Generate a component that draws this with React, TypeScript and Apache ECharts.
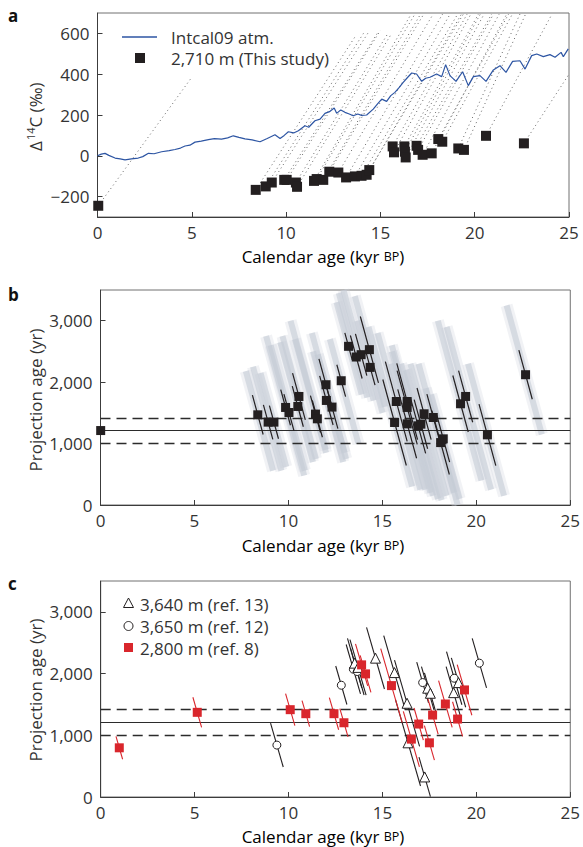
import React, { useEffect, useRef } from 'react';
import * as echarts from 'echarts';

const FONT = '"Open Sans", "Noto Sans", "DejaVu Sans", sans-serif';
const INK = '#231f20';

// ---------- Panel a ----------
const intcalAge = [0.0, 0.2, 0.4, 0.6, 0.93, 1.2, 1.46, 1.8, 2.16, 2.4, 2.7, 3.0, 3.4, 3.8, 4.11, 4.4, 4.64, 4.9, 5.17, 5.5, 5.88, 6.2, 6.58, 6.9, 7.2, 7.5, 7.82, 8.2, 8.62, 9.0, 9.41, 9.68, 9.9, 10.12, 10.4, 10.65, 11.0, 11.2, 11.53, 11.8, 12.06, 12.33, 12.55, 12.68, 12.9, 13.12, 13.35, 13.56, 13.8, 14.0, 14.27, 14.62, 14.85, 15.07, 15.33, 15.55, 15.77, 16.0, 16.21, 16.45, 16.66, 16.92, 17.19, 17.4, 17.63, 17.98, 18.25, 18.46, 18.69, 19.01, 19.36, 19.66, 19.93, 20.28, 20.6, 20.99, 21.34, 21.66, 22.01, 22.4, 22.67, 23.02, 23.29, 23.64, 23.99, 24.26, 24.58, 24.7, 24.96];
const intcalD14 = [0, 8, 12, 2, -11, -15, -20, -15, -11, -4, 12, 10, 20, 25, 31, 38, 48, 52, 67, 72, 79, 84, 82, 88, 98, 90, 83, 78, 69, 85, 103, 85, 100, 118, 112, 123, 147, 140, 172, 180, 208, 218, 234, 208, 225, 213, 205, 196, 205, 198, 200, 229, 255, 278, 267, 295, 311, 335, 360, 385, 406, 401, 365, 380, 385, 401, 388, 447, 393, 365, 412, 344, 388, 393, 365, 421, 442, 409, 463, 466, 425, 491, 499, 486, 496, 483, 507, 486, 524];

const ageA = [0.04, 8.39, 8.92, 9.24, 9.9, 10.03, 10.52, 10.58, 11.48, 11.62, 11.97, 12.29, 12.77, 13.18, 13.65, 14.0, 14.27, 14.41, 15.65, 15.72, 16.27, 16.3, 16.34, 16.92, 17.0, 17.24, 17.72, 18.07, 18.28, 19.13, 19.43, 20.6, 22.61];
const d14A = [-245, -167, -150, -131, -118, -118, -131, -152, -123, -114, -118, -78, -82, -106, -101, -98, -93, -70, 46, 17, 46, 20, -8, 49, 29, 5, 12, 82, 69, 36, 29, 98, 61];
// end points of the dotted projection curves starting at each sample
const dotEndX = [5.0, 13.7, 14.1, 14.4, 14.9, 15.0, 15.4, 15.6, 16.6, 16.8, 17.1, 17.3, 17.8, 18.3, 18.7, 19.1, 19.3, 19.4, 19.6, 19.8, 20.2, 20.3, 20.5, 20.9, 21.0, 21.3, 21.7, 21.8, 22.0, 22.4, 22.7, 24.1, 25.0];
const dotEndY = [385, 590, 600, 610, 610, 615, 600, 600, 690, 690, 690, 695, 695, 695, 695, 695, 695, 695, 695, 695, 695, 695, 695, 695, 695, 695, 695, 695, 695, 695, 695, 695, 400];

// ---------- Panel b ----------
const ageB = [0.01, 8.37, 8.92, 9.23, 9.85, 10.03, 10.5, 10.56, 11.44, 11.54, 12.0, 12.02, 12.32, 12.81, 13.2, 13.61, 13.87, 14.31, 14.35, 15.65, 15.74, 16.32, 16.32, 16.32, 16.9, 17.05, 17.22, 17.71, 18.1, 18.24, 19.16, 19.43, 20.59, 22.62];
const projB = [1212, 1468, 1349, 1349, 1588, 1506, 1604, 1767, 1480, 1403, 1958, 1702, 1594, 2023, 2583, 2409, 2447, 2529, 2240, 1343, 1685, 1685, 1588, 1321, 1289, 1316, 1485, 1424, 1016, 1077, 1648, 1767, 1142, 2121];
const errB = [0, 320, 280, 270, 290, 300, 330, 380, 300, 300, 420, 400, 350, 260, 220, 350, 340, 540, 290, 700, 650, 620, 600, 560, 450, 400, 420, 380, 520, 380, 460, 420, 500, 400];
const cloudTopB = [0, 2180, 2250, 2150, 2750, 2600, 2650, 2750, 2700, 3000, 2800, 2500, 2450, 2700, 3300, 3450, 3500, 3400, 3000, 2900, 2800, 2600, 2500, 2300, 2300, 2200, 2300, 2300, 1900, 1800, 3000, 2900, 2300, 3250];
const cloudBotB = [0, 560, 560, 620, 480, 560, 700, 750, 850, 900, 850, 700, 750, 1000, 1800, 1750, 1700, 1600, 1500, 300, 250, 150, 200, 250, 100, 80, 150, 200, 0, 100, 400, 250, 150, 1150];
const refMean = 1210;
const refLow = 1000;
const refHigh = 1420;

// ---------- Panel c ----------
const ageR = [0.99, 5.14, 10.09, 10.92, 12.42, 12.95, 13.89, 14.1, 15.48, 16.54, 16.93, 17.5, 17.67, 18.35, 19.0, 19.37];
const projR = [797, 1372, 1415, 1350, 1350, 1203, 2141, 1995, 1805, 938, 1182, 878, 1328, 1507, 1263, 1735];
const errR = [185, 244, 260, 211, 260, 228, 340, 300, 600, 450, 260, 280, 310, 380, 280, 410];
const ageO = [9.38, 12.81, 13.45, 13.66, 17.14, 18.82, 20.16];
const projO = [841, 1811, 2071, 2033, 1854, 1925, 2169];
const errO = [355, 312, 400, 380, 330, 430, 400];
const ageT = [13.52, 13.7, 14.63, 15.64, 16.31, 16.36, 17.25, 17.41, 17.55, 18.79, 19.05];
const projT = [2169, 2100, 2250, 2016, 1519, 878, 325, 1763, 1681, 1691, 1854];
const errT = [400, 450, 500, 600, 700, 700, 320, 350, 330, 420, 400];

const xTicks = [0, 5, 10, 15, 20, 25];
const yTicksA = [-200, 0, 200, 400, 600];
const yTicksBC = [0, 1000, 2000, 3000];

const SLOPE_B = 1120; // yr of projection age per kyr of calendar age along the uncertainty
const SLOPE_C = 1050;

function seg(x: number, y: number, up: number, down: number, s: number) {
  return { coords: [[x - up / s, y + up], [x + down / s, y - down]] };
}

function fmtThousands(v: number) {
  return v === 0 ? '0' : v.toLocaleString('en-US');
}

function buildOption() {
  const axisLine = { show: true, onZero: false, lineStyle: { color: '#3c3c3c', width: 1 } };
  const axisTick = { show: true, inside: true, length: 5, lineStyle: { color: '#3c3c3c', width: 1 } };
  const label = { color: '#333', fontSize: 17, fontFamily: FONT };

  const grids = [
    { left: 97.5, top: 13, width: 471.5, height: 204 },
    { left: 100.5, top: 290, width: 472.5, height: 215 },
    { left: 100.7, top: 581, width: 471.5, height: 216 },
  ].map((g) => ({ ...g, show: true, borderColor: '#707070', borderWidth: 1, backgroundColor: 'transparent' }));

  const xAxis = [0, 1, 2].map((i) => ({
    type: 'value', gridIndex: i, min: 0, max: 25, interval: 5,
    axisLine, axisTick: { ...axisTick, customValues: xTicks },
    axisLabel: { ...label, margin: 7, customValues: xTicks },
    splitLine: { show: false },
  }));

  const yAxis = [
    {
      type: 'value', gridIndex: 0, min: -300, max: 700, interval: 100,
      axisLine, axisTick: { ...axisTick, customValues: yTicksA },
      axisLabel: {
        ...label, margin: 8, customValues: yTicksA,
        formatter: (v: number) => (yTicksA.includes(v) ? (v < 0 ? '\u2212' + Math.abs(v) : String(v)) : ''),
      },
      splitLine: { show: false },
    },
    ...[1, 2].map((i) => ({
      type: 'value', gridIndex: i, min: 0, max: 3500, interval: 500,
      axisLine, axisTick: { ...axisTick, customValues: yTicksBC },
      axisLabel: {
        ...label, margin: 8, customValues: yTicksBC,
        formatter: (v: number) => (yTicksBC.includes(v) ? fmtThousands(v) : ''),
      },
      splitLine: { show: false },
    })),
  ];

  const series: any[] = [];
  const linesBase = (ax: number) => ({
    type: 'lines', coordinateSystem: 'cartesian2d', xAxisIndex: ax, yAxisIndex: ax, silent: true, polyline: false,
  });

  // ---- a ----
  series.push({
    ...linesBase(0),
    lineStyle: { color: '#666', width: 1, type: [1, 3.2], opacity: 1 },
    data: ageA.map((x, i) => ({ coords: [[x, d14A[i]], [dotEndX[i], dotEndY[i]]] })),
  });
  series.push({
    type: 'line', xAxisIndex: 0, yAxisIndex: 0, showSymbol: false, silent: true,
    lineStyle: { color: '#2d55a3', width: 1.2, opacity: 1 },
    data: intcalAge.map((x, i) => [x, intcalD14[i]]),
  });
  series.push({
    type: 'scatter', xAxisIndex: 0, yAxisIndex: 0, symbol: 'rect', symbolSize: 10, silent: true,
    itemStyle: { color: INK, opacity: 1 },
    data: ageA.map((x, i) => [x, d14A[i]]),
  });

  // ---- b ----
  const cloudData = ageB
    .map((x, i) => (cloudTopB[i] > 0 ? seg(x, projB[i], cloudTopB[i] - projB[i], projB[i] - cloudBotB[i], SLOPE_B) : null))
    .filter(Boolean);
  series.push({
    ...linesBase(1),
    lineStyle: { color: '#cfd5dd', width: 12, opacity: 0.3, cap: 'butt' },
    data: cloudData,
  });
  series.push({
    ...linesBase(1),
    lineStyle: { color: '#c5ccd6', width: 6, opacity: 0.6, cap: 'butt' },
    data: cloudData,
  });

  const refLines = (ax: number) => [
    {
      ...linesBase(ax),
      lineStyle: { color: '#2b2b2b', width: 1.4, type: [10, 6], opacity: 1 },
      data: [{ coords: [[0, refHigh], [25, refHigh]] }, { coords: [[0, refLow], [25, refLow]] }],
    },
    {
      ...linesBase(ax),
      lineStyle: { color: '#2b2b2b', width: 1, opacity: 1 },
      data: [{ coords: [[0, refMean], [25, refMean]] }],
    },
  ];
  series.push(...refLines(1));
  series.push({
    ...linesBase(1),
    lineStyle: { color: INK, width: 1.2, opacity: 1 },
    data: ageB.map((x, i) => seg(x, projB[i], errB[i], errB[i], SLOPE_B)).filter((d, i) => errB[i] > 0),
  });
  series.push({
    type: 'scatter', xAxisIndex: 1, yAxisIndex: 1, symbol: 'rect', symbolSize: 9, silent: true,
    itemStyle: { color: INK, opacity: 1 },
    data: ageB.map((x, i) => [x, projB[i]]),
  });

  // ---- c ----
  series.push(...refLines(2));
  series.push({
    ...linesBase(2),
    lineStyle: { color: INK, width: 1.1, opacity: 1 },
    data: [
      ...ageO.map((x, i) => seg(x, projO[i], errO[i], errO[i], SLOPE_C)),
      ...ageT.map((x, i) => seg(x, projT[i], errT[i], Math.min(errT[i], projT[i]), SLOPE_C)),
    ],
  });
  series.push({
    ...linesBase(2),
    lineStyle: { color: '#d9262c', width: 1.1, opacity: 1 },
    data: ageR.map((x, i) => seg(x, projR[i], errR[i], errR[i], SLOPE_C)),
  });
  series.push({
    type: 'scatter', xAxisIndex: 2, yAxisIndex: 2, symbol: 'circle', symbolSize: 8, silent: true,
    itemStyle: { color: '#fff', borderColor: INK, borderWidth: 1, opacity: 1 },
    data: ageO.map((x, i) => [x, projO[i]]),
  });
  series.push({
    type: 'scatter', xAxisIndex: 2, yAxisIndex: 2, symbol: 'triangle', symbolSize: 10, silent: true,
    itemStyle: { color: '#fff', borderColor: INK, borderWidth: 1, opacity: 1 },
    data: ageT.map((x, i) => [x, projT[i]]),
  });
  series.push({
    type: 'scatter', xAxisIndex: 2, yAxisIndex: 2, symbol: 'rect', symbolSize: 9, silent: true,
    itemStyle: { color: '#d9262c', opacity: 1 },
    data: ageR.map((x, i) => [x, projR[i]]),
  });

  const txt = (x: number, y: number, text: string, extra: any = {}) => ({
    type: 'text', x, y, silent: true,
    style: { text, fill: '#333', font: `17px ${FONT}`, textAlign: 'left', textVerticalAlign: 'middle', ...extra },
  });
  const xName = (y: number) => ({
    type: 'text', x: 323, y, silent: true,
    style: {
      text: '{n|Calendar age (kyr }{s|BP}{n|)}', textAlign: 'center', textVerticalAlign: 'middle',
      rich: {
        n: { fontSize: 17, fontFamily: FONT, color: '#333' },
        s: { fontSize: 12.5, fontFamily: FONT, color: '#333' },
      },
    },
  });
  const yName = (y: number, text: string) => ({
    type: 'text', x: 35, y, rotation: Math.PI / 2, silent: true,
    style: { text, textAlign: 'center', textVerticalAlign: 'middle', fill: '#333', font: `17px ${FONT}` },
  });

  // Δ14C (‰) built from pieces so the mass number is a real superscript
  const d14Label = {
    type: 'group', x: 35, y: 117, rotation: Math.PI / 2, silent: true,
    children: [
      { type: 'text', x: -34, y: 0, style: { text: 'Δ', fill: '#333', font: `17px ${FONT}`, textAlign: 'left', textVerticalAlign: 'middle' } },
      { type: 'text', x: -23, y: -5, style: { text: '14', fill: '#333', font: `11px ${FONT}`, textAlign: 'left', textVerticalAlign: 'middle' } },
      { type: 'text', x: -10.5, y: 0, style: { text: 'C (‰)', fill: '#333', font: `17px ${FONT}`, textAlign: 'left', textVerticalAlign: 'middle' } },
    ],
  };

  const graphic = [
    txt(8, 15, 'a', { font: `bold 17px ${FONT}`, fill: '#111' }),
    txt(8, 294, 'b', { font: `bold 17px ${FONT}`, fill: '#111' }),
    txt(8, 583, 'c', { font: `bold 17px ${FONT}`, fill: '#111' }),
    xName(256), xName(545), xName(836),
    d14Label,
    yName(400, 'Projection age (yr)'),
    yName(690, 'Projection age (yr)'),
    // legend a
    { type: 'line', silent: true, shape: { x1: 122, y1: 37, x2: 157, y2: 37 }, style: { stroke: '#2d55a3', lineWidth: 1.4 } },
    txt(171, 37, 'Intcal09 atm.'),
    { type: 'rect', silent: true, shape: { x: 135, y: 53, width: 10, height: 10 }, style: { fill: INK } },
    txt(171, 58, '2,710 m (This study)'),
    // legend c
    { type: 'polygon', silent: true, shape: { points: [[128.5, 598], [133.5, 607.5], [123.5, 607.5]] }, style: { fill: '#fff', stroke: INK, lineWidth: 1 } },
    txt(140, 604, '3,640 m (ref. 13)'),
    { type: 'circle', silent: true, shape: { cx: 128.5, cy: 626, r: 4.5 }, style: { fill: '#fff', stroke: INK, lineWidth: 1 } },
    txt(140, 626, '3,650 m (ref. 12)'),
    { type: 'rect', silent: true, shape: { x: 124, y: 643, width: 9, height: 9 }, style: { fill: '#d9262c' } },
    txt(140, 648, '2,800 m (ref. 8)'),
  ];

  return {
    animation: false,
    backgroundColor: '#fff',
    textStyle: { fontFamily: FONT },
    grid: grids,
    xAxis,
    yAxis,
    series,
    graphic,
  };
}

export default function App() {
  const ref = useRef<HTMLDivElement>(null);
  useEffect(() => {
    document.body.style.margin = '0';
    const chart = echarts.init(ref.current!, null, { renderer: 'svg' });
    chart.setOption(buildOption() as any);
    return () => chart.dispose();
  }, []);
  return <div ref={ref} style={{ width: 583, height: 847 }} />;
}
